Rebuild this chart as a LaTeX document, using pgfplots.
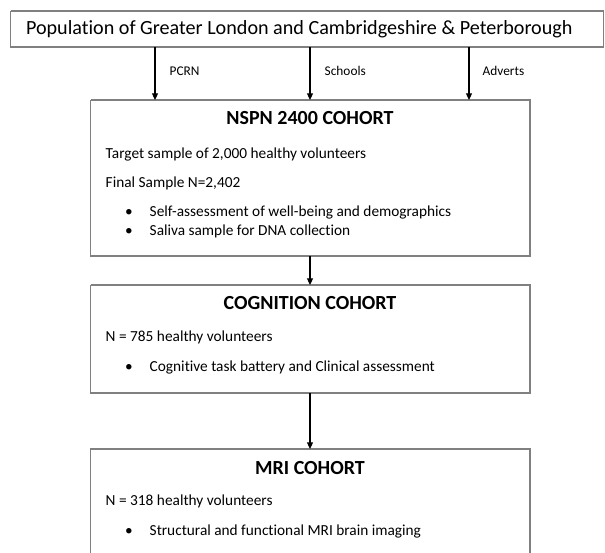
\documentclass[border=0pt]{standalone}
\usepackage{fontspec}
\setmainfont[RawFeature=-liga]{Carlito}
\usepackage{pgfplots}
\pgfplotsset{compat=1.18}
\usetikzlibrary{arrows.meta}
\definecolor{boxgray}{HTML}{808080}
\definecolor{txt}{HTML}{1A1A1A}
\begin{document}
\begin{tikzpicture}
\begin{axis}[
  scale only axis, width=453.75pt, height=414pt,
  xmin=0, xmax=605, ymin=0, ymax=552, y dir=reverse,
  hide axis, clip=true,
  every node/.style={inner sep=0pt, text=txt},
]
\path (rel axis cs:0,0) rectangle (rel axis cs:1,1);
% boxes
\addplot[boxgray, line width=0.8pt, line join=miter] coordinates {(10.7,11)(603.5,11)(603.5,47)(10.7,47)(10.7,11)};
\addplot[boxgray, line width=0.8pt, line join=miter] coordinates {(90.7,100)(530,100)(530,256)(90.7,256)(90.7,100)};
\addplot[boxgray, line width=0.8pt, line join=miter] coordinates {(90.7,285)(530,285)(530,393)(90.7,393)(90.7,285)};
\addplot[boxgray, line width=0.8pt, line join=miter] coordinates {(90.7,580)(90.7,449)(530,449)(530,580)};
% arrows
\addplot[black, line width=0.8pt, -{Triangle[length=5pt,width=4.5pt]}] coordinates {(155,47)(155,100)};
\addplot[black, line width=0.8pt, -{Triangle[length=5pt,width=4.5pt]}] coordinates {(310,47)(310,100)};
\addplot[black, line width=0.8pt, -{Triangle[length=5pt,width=4.5pt]}] coordinates {(469,47)(469,100)};
\addplot[black, line width=0.8pt, -{Triangle[length=5pt,width=4.5pt]}] coordinates {(310,256)(310,285)};
\addplot[black, line width=0.8pt, -{Triangle[length=5pt,width=4.5pt]}] coordinates {(310,393)(310,449)};
% top text
\node[anchor=base west, font=\fontsize{15.1}{18}\selectfont] at (axis cs:21.3,35) {Population of Greater London and Cambridgeshire \& Peterborough};
% arrow labels
\node[anchor=base west, font=\fontsize{10}{12}\selectfont] at (axis cs:165,76) {PCRN};
\node[anchor=base west, font=\fontsize{10}{12}\selectfont] at (axis cs:320,76) {Schools};
\node[anchor=base west, font=\fontsize{10}{12}\selectfont] at (axis cs:478,76) {Adverts};
% NSPN
\node[anchor=base, font=\fontsize{15}{18}\selectfont\bfseries] at (axis cs:310,124.3) {NSPN 2400 COHORT};
\node[anchor=base west, font=\fontsize{11.5}{14}\selectfont] at (axis cs:101,158.3) {Target sample of 2,000 healthy volunteers};
\node[anchor=base west, font=\fontsize{11.5}{14}\selectfont] at (axis cs:101,187.7) {Final Sample N=2,402};
\node[anchor=base, font=\fontsize{11.5}{14}\selectfont] at (axis cs:129,216.7) {\textbullet};
\node[anchor=base west, font=\fontsize{11.5}{14}\selectfont] at (axis cs:145,216.7) {Self-assessment of well-being and demographics};
\node[anchor=base, font=\fontsize{11.5}{14}\selectfont] at (axis cs:129,235.5) {\textbullet};
\node[anchor=base west, font=\fontsize{11.5}{14}\selectfont] at (axis cs:145,235.5) {Saliva sample for DNA collection};
% COGNITION
\node[anchor=base, font=\fontsize{15}{18}\selectfont\bfseries] at (axis cs:310,309.3) {COGNITION COHORT};
\node[anchor=base west, font=\fontsize{11.5}{14}\selectfont] at (axis cs:101,341.7) {N = 785 healthy volunteers};
\node[anchor=base, font=\fontsize{11.5}{14}\selectfont] at (axis cs:129,371.7) {\textbullet};
\node[anchor=base west, font=\fontsize{11.5}{14}\selectfont] at (axis cs:145,371.7) {Cognitive task battery and Clinical assessment};
% MRI
\node[anchor=base, font=\fontsize{15}{18}\selectfont\bfseries] at (axis cs:310,474) {MRI COHORT};
\node[anchor=base west, font=\fontsize{11.5}{14}\selectfont] at (axis cs:101,505) {N = 318 healthy volunteers};
\node[anchor=base, font=\fontsize{11.5}{14}\selectfont] at (axis cs:129,535) {\textbullet};
\node[anchor=base west, font=\fontsize{11.5}{14}\selectfont] at (axis cs:145,535) {Structural and functional MRI brain imaging};
\end{axis}
\end{tikzpicture}
\end{document}
